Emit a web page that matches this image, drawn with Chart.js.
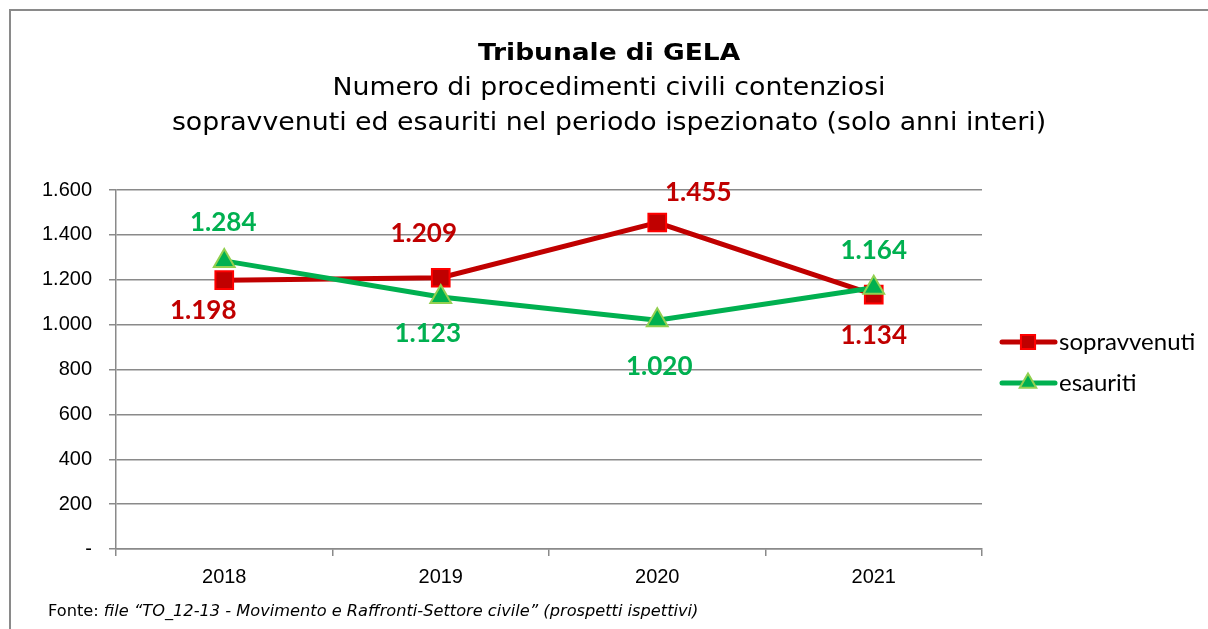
<!DOCTYPE html>
<html>
<head>
<meta charset="utf-8">
<script src="https://cdn.jsdelivr.net/npm/chart.js@4/dist/chart.umd.min.js"></script>
<style>
  html, body { margin: 0; padding: 0; background: #ffffff; overflow: hidden; }
  #wrap { position: relative; width: 1208px; height: 629px; }
</style>
</head>
<body>
<div id="wrap"><canvas id="c" width="1208" height="629"></canvas></div>
<script>
const categories = ['2018', '2019', '2020', '2021'];
const sopravvenuti = [1198, 1209, 1455, 1134];
const esauriti = [1284, 1123, 1020, 1164];
const yTicks = [0, 200, 400, 600, 800, 1000, 1200, 1400, 1600];
const seriesNames = ['sopravvenuti', 'esauriti'];
const titleText = 'Tribunale di GELA';
const subtitleLines = ['Numero di procedimenti civili contenziosi', 'sopravvenuti ed esauriti nel periodo ispezionato (solo anni interi)'];
const sourcePrefix = 'Fonte: ';
const sourceText = 'file \u201cTO_12-13 - Movimento e Raffronti-Settore civile\u201d (prospetti ispettivi)';

function fmt(v) {
  if (v === 0) return '-';
  const s = String(Math.round(v));
  return s.replace(/\B(?=(\d{3})+(?!\d))/g, '.');
}

const RED = '#C00000', RED_B = '#FF0000', GREEN = '#00B050', GREEN_B = '#92D050';

function wideText(ctx, text, x, y, sx) {
  ctx.save();
  ctx.translate(x, y);
  ctx.scale(sx, 1);
  ctx.fillText(text, 0, 0);
  ctx.restore();
}

const decorPlugin = {
  id: 'decor',
  beforeDraw(chart) {
    const ctx = chart.ctx;
    ctx.save();
    ctx.strokeStyle = '#8a8a8a';
    ctx.lineWidth = 2;
    ctx.strokeRect(10, 10, 1400, 800);
    // titles
    ctx.fillStyle = '#000';
    ctx.textAlign = 'center';
    ctx.textBaseline = 'middle';
    ctx.font = 'bold 23px "DejaVu Sans"';
    wideText(ctx, titleText, 609, 54, 1.15);
    ctx.font = '24px "DejaVu Sans"';
    wideText(ctx, subtitleLines[0], 609, 89, 1.115);
    wideText(ctx, subtitleLines[1], 609, 124, 1.115);
    // footer
    ctx.textAlign = 'left';
    ctx.font = '15px "DejaVu Sans"';
    const sx = 1.08;
    wideText(ctx, sourcePrefix, 48, 612, sx);
    const w = ctx.measureText(sourcePrefix).width * sx;
    ctx.font = 'italic 15px "DejaVu Sans"';
    wideText(ctx, sourceText, 48 + w, 612, sx);
    ctx.restore();
  },
  afterDraw(chart) {
    const ctx = chart.ctx;
    ctx.save();
    // legend
    const items = [
      { name: seriesNames[0], color: RED, border: RED_B, style: 'rect', y: 342 },
      { name: seriesNames[1], color: GREEN, border: GREEN_B, style: 'triangle', y: 383 }
    ];
    items.forEach(it => {
      ctx.strokeStyle = it.color;
      ctx.lineWidth = 5;
      ctx.lineCap = 'round';
      ctx.beginPath();
      ctx.moveTo(1002, it.y);
      ctx.lineTo(1055, it.y);
      ctx.stroke();
      ctx.lineWidth = 2;
      ctx.fillStyle = it.color;
      ctx.strokeStyle = it.border;
      Chart.helpers.drawPoint(ctx, { pointStyle: it.style, radius: it.style === 'rect' ? 10 : 9.5, borderWidth: 2 }, 1028, it.y);
      ctx.fillStyle = '#000';
      ctx.font = '24px Lato';
      ctx.textAlign = 'left';
      ctx.textBaseline = 'middle';
      ctx.fillText(it.name, 1059, it.y);
    });
    // data labels
    const offsets = chart.options.plugins.decor.offsets;
    chart.data.datasets.forEach((ds, di) => {
      const meta = chart.getDatasetMeta(di);
      meta.data.forEach((pt, i) => {
        const o = offsets[di][i];
        ctx.fillStyle = ds.borderColor;
        ctx.font = 'bold 26px Lato';
        ctx.textAlign = 'center';
        ctx.textBaseline = 'middle';
        ctx.fillText(fmt(ds.data[i]), pt.x + o[0], pt.y + o[1]);
      });
    });
    ctx.restore();
  }
};

new Chart(document.getElementById('c'), {
  type: 'line',
  data: {
    labels: categories,
    datasets: [
      {
        label: seriesNames[0], data: sopravvenuti, order: 1,
        borderColor: RED, backgroundColor: RED, borderWidth: 5,
        pointStyle: 'rect', pointRadius: 12.5, pointHoverRadius: 12.5,
        pointBackgroundColor: RED, pointBorderColor: RED_B, pointBorderWidth: 2,
        tension: 0
      },
      {
        label: seriesNames[1], data: esauriti, order: 0,
        borderColor: GREEN, backgroundColor: GREEN, borderWidth: 5,
        pointStyle: 'triangle', pointRadius: 12, pointHoverRadius: 12,
        pointBackgroundColor: GREEN, pointBorderColor: GREEN_B, pointBorderWidth: 2,
        tension: 0
      }
    ]
  },
  options: {
    responsive: false,
    animation: false,
    events: [],
    layout: { padding: { top: 190, left: 0, right: 226, bottom: 40 } },
    plugins: {
      legend: { display: false },
      title: { display: false },
      tooltip: { enabled: false },
      decor: {
        offsets: [
          [[-21, 30], [-17, -44], [41, -30], [0, 41]],
          [[-1, -38], [-13, 37], [2, 46], [0, -37]]
        ]
      }
    },
    scales: {
      x: {
        type: 'category',
        offset: true,
        afterFit(s) { s.height = 40; },
        grid: { display: true, drawOnChartArea: false, drawTicks: true, tickLength: 7, offset: true, color: '#8a8a8a', lineWidth: 1.5 },
        border: { display: true, color: '#8a8a8a', width: 1.5 },
        ticks: { color: '#000', font: { family: 'Liberation Sans', size: 20 }, padding: 9, maxRotation: 0 }
      },
      y: {
        min: 0, max: 1600,
        afterFit(s) { s.width = 116; },
        afterBuildTicks(s) { s.ticks = yTicks.map(v => ({ value: v })); },
        grid: { color: '#8a8a8a', lineWidth: 1.5, drawTicks: true, tickLength: 7 },
        border: { display: true, color: '#8a8a8a', width: 1.5 },
        ticks: { color: '#000', font: { family: 'Liberation Sans', size: 20 }, padding: 17, callback: (v) => fmt(v) }
      }
    }
  },
  plugins: [decorPlugin]
});
</script>
</body>
</html>
